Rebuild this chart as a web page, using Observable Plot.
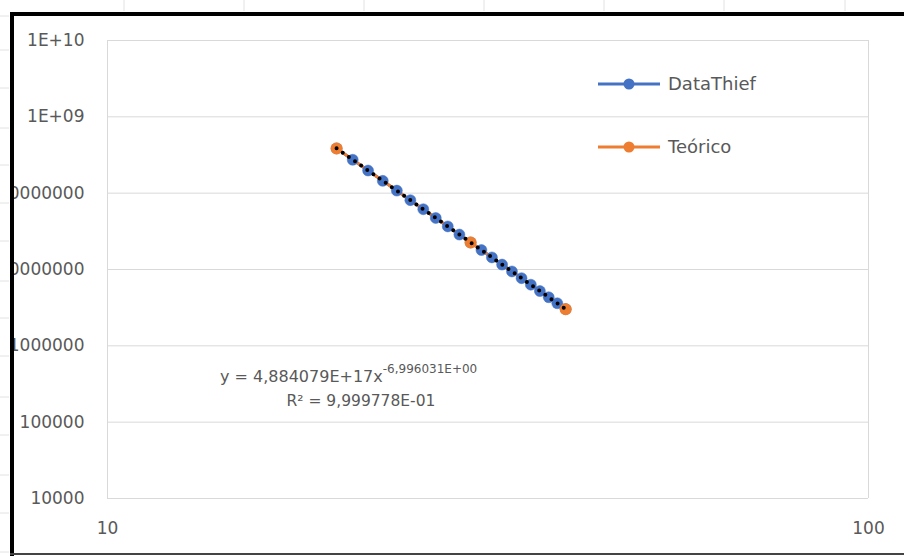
<!DOCTYPE html>
<html><head><meta charset="utf-8">
<script src="https://cdn.jsdelivr.net/npm/d3@7"></script>
<script src="https://cdn.jsdelivr.net/npm/@observablehq/plot@0.6"></script>
<style>
body{margin:0;background:#fff;}
#wrap{position:relative;width:904px;height:556px;overflow:hidden;background:#fff;font-family:"DejaVu Sans",sans-serif;}
#wrap svg{position:absolute;left:0;top:0;}
</style></head>
<body><div id="wrap"></div>
<script>
// ---- data ----
const dtX = [20,21,22,23,24,25,26,27,28,29,30,31,32,33,34,35,36,37,38,39,40];
const dtY = [3.86e8,2.74e8,1.98e8,1.45e8,1.08e8,8.10e7,6.16e7,4.73e7,3.67e7,2.87e7,2.26e7,1.80e7,1.44e7,1.16e7,9.43e6,7.70e6,6.32e6,5.22e6,4.33e6,3.61e6,3.03e6];
const teoX = [20,30,40];
const teoY = [3.86e8,2.26e7,3.02e6];
const trendX = [20,40];
const trendY = [3.862e8,3.026e6];
const xTicks = [10,100];
const xTickLabels = ["10","100"];
const yTicks = [1e4,1e5,1e6,1e7,1e8,1e9,1e10];
const yTickLabels = ["10000","100000","1000000","10000000","100000000","1E+09","1E+10"];
const seriesNames = ["DataThief","Teórico"];
const colors = ["#4472C4","#ED7D31"];
const eqLine1 = "y = 4,884079E+17x";
const eqExp = "-6,996031E+00";
const eqLine2 = "R² = 9,999778E-01";

const dt = dtX.map((x,i)=>({x, y: dtY[i]}));
const teo = teoX.map((x,i)=>({x, y: teoY[i]}));
const trend = trendX.map((x,i)=>({x, y: trendY[i]}));
const xLab = new Map(xTicks.map((t,i)=>[t,xTickLabels[i]]));
const yLab = new Map(yTicks.map((t,i)=>[t,yTickLabels[i]]));

const chart = Plot.plot({
  width: 904, height: 556,
  marginLeft: 107, marginRight: 36, marginTop: 40, marginBottom: 58,
  style: {fontFamily: '"DejaVu Sans", sans-serif', fontSize: "17px", color: "#595959", background: "transparent"},
  x: {type: "log", domain: [10,100], ticks: xTicks, tickFormat: d => xLab.get(d)},
  y: {type: "log", domain: [1e4,1e10], ticks: yTicks, tickFormat: d => yLab.get(d)},
  marks: [
    Plot.ruleY(yTicks, {stroke: "#d9d9d9", strokeWidth: 1}),
    Plot.ruleX(xTicks, {stroke: "#d9d9d9", strokeWidth: 1}),
    Plot.axisY({ticks: yTicks, tickSize: 0, tickPadding: 23, label: null, tickFormat: d => yLab.get(d), fill: "#595959", fontSize: 17}),
    Plot.axisX({ticks: xTicks, tickSize: 0, tickPadding: 23, label: null, tickFormat: d => xLab.get(d), fill: "#595959", fontSize: 17}),
    Plot.line(dt, {x: "x", y: "y", stroke: colors[0], strokeWidth: 3}),
    Plot.line(teo, {x: "x", y: "y", stroke: colors[1], strokeWidth: 3}),
    Plot.dot(dt, {x: "x", y: "y", r: 5.5, fill: colors[0], stroke: colors[0], strokeWidth: 0.5}),
    Plot.dot(teo, {x: "x", y: "y", r: 6, fill: colors[1]}),
    Plot.line(trend, {x: "x", y: "y", stroke: "#000", strokeWidth: 4, strokeDasharray: "0,7.5", strokeLinecap: "round"})
  ]
});
const wrap = document.getElementById("wrap");
wrap.appendChild(chart);

// legend, trendline equation and screenshot frame
const ov = d3.select(wrap).append("svg").attr("width",904).attr("height",556)
  .style("font-family",'"DejaVu Sans", sans-serif').style("pointer-events","none");
const legY = [84,147];
seriesNames.forEach((name,i)=>{
  const g = ov.append("g");
  g.append("line").attr("x1",598).attr("x2",660).attr("y1",legY[i]).attr("y2",legY[i]).attr("stroke",colors[i]).attr("stroke-width",3);
  g.append("circle").attr("cx",629).attr("cy",legY[i]).attr("r",5.5).attr("fill",colors[i]);
  g.append("text").attr("x",668).attr("y",legY[i]).attr("dy","0.36em").attr("font-size",18).attr("fill","#595959").text(name);
});
const eq = ov.append("text").attr("x",220).attr("y",382).attr("font-size",16).attr("fill","#595959");
eq.append("tspan").text(eqLine1);
eq.append("tspan").attr("font-size",12).attr("dy",-9).text(eqExp);
ov.append("text").attr("x",361).attr("y",406).attr("text-anchor","middle").attr("font-size",15.5).attr("fill","#595959").text(eqLine2);

// cropped-screenshot frame
ov.append("rect").attr("x",0).attr("y",0).attr("width",10).attr("height",556).attr("fill","#fff");
ov.append("rect").attr("x",0).attr("y",0).attr("width",904).attr("height",12).attr("fill","#fff");
[124,244,364,484,604,724,845].forEach(x=>{
  ov.append("line").attr("x1",x).attr("x2",x).attr("y1",0).attr("y2",11).attr("stroke","#e2e2e2");
});
[16,50,88,128,165,203,241,281,318,356,397,435,475,513,552].forEach(y=>{
  ov.append("line").attr("x1",0).attr("x2",9).attr("y1",y).attr("y2",y).attr("stroke","#e2e2e2");
});
ov.append("rect").attr("x",10).attr("y",12).attr("width",894).attr("height",4).attr("fill","#000");
ov.append("rect").attr("x",10).attr("y",12).attr("width",4).attr("height",544).attr("fill","#000");
ov.append("rect").attr("x",10).attr("y",553).attr("width",894).attr("height",2).attr("fill","#444");
</script></body></html>
